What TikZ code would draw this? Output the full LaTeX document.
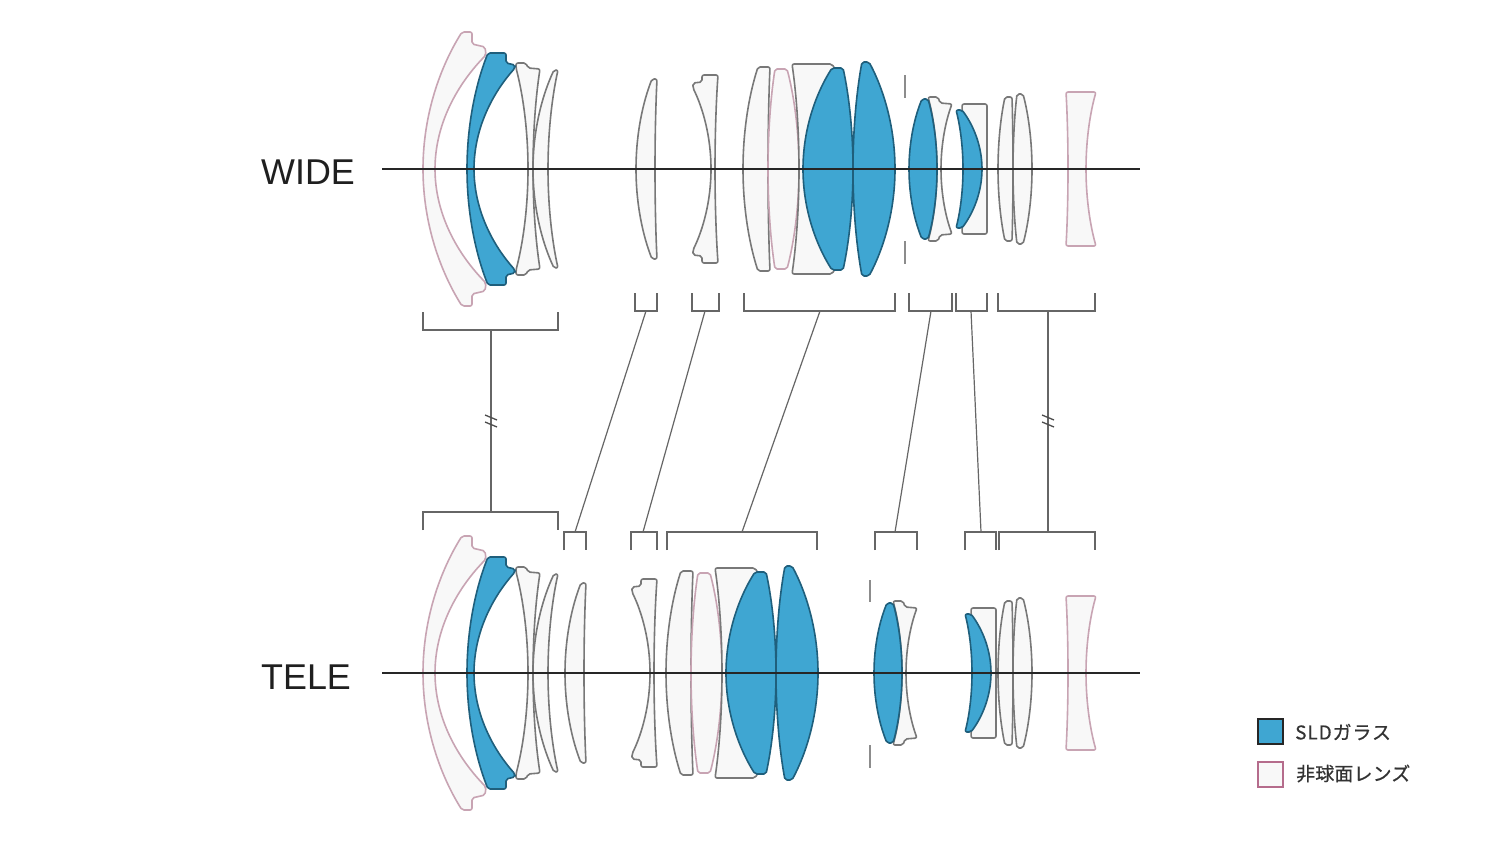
\documentclass[tikz,border=0pt]{standalone}
\usepackage{fontspec}
\setmainfont{Liberation Sans}
\newfontfamily\jpfont[FakeBold=0.6]{Noto Sans CJK JP}
\definecolor{sld}{HTML}{3FA6D2}
\definecolor{sldedge}{HTML}{1F5F7C}
\definecolor{glassfill}{HTML}{F8F8F8}
\definecolor{glassedge}{HTML}{787878}
\definecolor{asphedge}{HTML}{C8A4B3}
\definecolor{legendpink}{HTML}{B56C8C}
\definecolor{bracketgray}{HTML}{666666}
\tikzset{
  x=1bp,y=-1bp,
  bluelens/.style={fill=sld,draw=sldedge,line width=1.6bp,rounded corners=2bp,line join=round},
  whitelens/.style={fill=glassfill,draw=glassedge,line width=1.6bp,rounded corners=2bp,line join=round},
  pinklens/.style={fill=glassfill,draw=asphedge,line width=1.6bp,rounded corners=2bp,line join=round},
  axisline/.style={draw=black!85,line width=1.2bp},
  bracketline/.style={draw=bracketgray,line width=1.3bp},
  linkline/.style={draw=bracketgray,line width=1.2bp},
  stopmark/.style={draw=black!45,line width=1.4bp},
  breakmark/.style={draw=black!70,line width=1.3bp},
  rowlabel/.style={font=\fontsize{36}{36}\selectfont,text=black!88,inner sep=0pt,anchor=base west},
  legendlabel/.style={font=\jpfont\fontsize{19}{19}\selectfont,text=black!80,inner sep=0pt,anchor=west},
}
% half lens drawn above the axis and mirrored; the open path is closed along the axis only by the fill
\newcommand\halflens[2]{\path[#1] #2;\path[#1,yscale=-1] #2;}
\newcommand\su[3]{.. controls (#1,{-(#3)*0.4}) and ({#1+(#2-#1)*0.45},{-(#3)*0.75}) .. (#2,-#3)}
\newcommand\sd[3]{.. controls ({#2+(#1-#2)*0.45},{-(#3)*0.75}) and (#2,{-(#3)*0.4}) .. (#2,0)}
\newcommand\lensA{\halflens{pinklens}{(423,0) \su{423}{462}{137} -- (472,-137) -- (472,-125) -- (485,-122) -- (486,-114) \sd{486}{435}{114}}}
\newcommand\lensC{\halflens{whitelens}{(528,0) \su{528}{516}{101} -- (516,-106) -- (526,-106) -- (528,-101) -- (540,-100) \sd{540}{533}{100}}}
\newcommand\lensD{\halflens{whitelens}{(533,0) \su{533}{554}{99} -- (558,-99) \sd{558}{548}{99}}}
\newcommand\lensB{\halflens{bluelens}{(467,0) \su{467}{488}{116} -- (506,-116) -- (506,-106) -- (515,-104) -- (515,-101) \sd{515}{474}{101}}}
\newcommand\lensE{\halflens{whitelens}{(636,0) \su{636}{652}{90} -- (657,-90) \sd{657}{655}{90}}}
\newcommand\lensF{\halflens{whitelens}{(711,0) \su{711}{693}{81} -- (693,-86) -- (702,-87) -- (702,-94) -- (718,-94) \sd{718}{715}{94}}}
\newcommand\lensG{\halflens{whitelens}{(743,0) \su{743}{758}{102} -- (770,-102) \sd{770}{768}{102}}}
\newcommand\lensH{\halflens{pinklens}{(768,0) \su{768}{775}{100} -- (787,-100) \sd{787}{799}{100}}}
\newcommand\lensI{\halflens{whitelens}{(799,0) \su{799}{792}{105} -- (832,-105) -- (835,-100) -- (815,0)}}
\newcommand\lensJ{\halflens{bluelens}{(803,0) \su{803}{832}{101} -- (843,-101) \sd{843}{853}{101}}}
\newcommand\lensK{\halflens{bluelens}{(853,0) \su{853}{862}{107} -- (869,-107) \sd{869}{895}{107}}}
\newcommand\lensM{\halflens{whitelens}{(937,0) \su{937}{928}{72} -- (938,-72) -- (940,-66) -- (952,-65) \sd{952}{941}{65}}}
\newcommand\lensL{\halflens{bluelens}{(909,0) \su{909}{922}{70} -- (928,-70) \sd{928}{937}{70}}}
\newcommand\lensO{\halflens{whitelens}{(963,0) \su{963}{962}{65} -- (987,-65) -- (987,0)}}
\newcommand\lensN{\halflens{bluelens}{(963,0) \su{963}{956}{59} -- (962,-59) \sd{962}{982}{59}}}
\newcommand\lensP{\halflens{whitelens}{(998,0) \su{998}{1005}{72} -- (1012,-72) \sd{1012}{1013}{72}}}
\newcommand\lensQ{\halflens{whitelens}{(1013,0) \su{1013}{1017}{75} -- (1023,-75) \sd{1023}{1032}{75}}}
\newcommand\lensR{\halflens{pinklens}{(1068,0) \su{1068}{1066}{77} -- (1096,-77) \sd{1096}{1086}{77}}}
\newcommand\bracketat[5]{\draw[bracketline] (#2,#5) -- (#2,#4) -- (#3,#4) -- (#3,#5);}
\newcommand\breakat[2]{\draw[breakmark] (#1-6,#2-6) -- (#1+6,#2-1);\draw[breakmark] (#1-6,#2+1) -- (#1+6,#2+6);}
\begin{document}
\begin{tikzpicture}
\useasboundingbox (0,0) rectangle (1500,844);
\fill[white] (0,0) rectangle (1500,844);
% wide
\begin{scope}[shift={(0,169)}]
\lensA\lensC\lensD\lensB\lensE\lensF\lensG\lensH\lensI\lensJ\lensK\lensM\lensL\lensO\lensN\lensP\lensQ\lensR
\end{scope}
% tele
\begin{scope}[shift={(0,673)}]
\lensA\lensC\lensD\lensB
\begin{scope}[shift={(-71,0)}]\lensE\end{scope}
\begin{scope}[shift={(-61,0)}]\lensF\end{scope}
\begin{scope}[shift={(-77,0)}]\lensG\lensH\lensI\lensJ\lensK\end{scope}
\begin{scope}[shift={(-35,0)}]\lensM\lensL\end{scope}
\begin{scope}[shift={(9,0)}]\lensO\lensN\end{scope}
\lensP\lensQ\lensR
\end{scope}
% axes
\draw[axisline] (382,169) -- (1140,169);
\draw[axisline] (382,673) -- (1140,673);
% stop marks
\draw[stopmark] (905,75) -- (905,98);
\draw[stopmark] (905,241) -- (905,264);
\draw[stopmark] (870,580) -- (870,602);
\draw[stopmark] (870,745) -- (870,768);
% brackets
\bracketat{w1}{423}{558}{330}{312}
\bracketat{w2}{635}{657}{311}{293}
\bracketat{w3}{692}{719}{311}{293}
\bracketat{w4}{744}{895}{311}{293}
\bracketat{w5}{909}{952}{311}{293}
\bracketat{w6}{956}{987}{311}{293}
\bracketat{w7}{998}{1095}{311}{293}
\bracketat{t1}{423}{558}{512}{530}
\bracketat{t2}{564}{586}{532}{550}
\bracketat{t3}{631}{657}{532}{550}
\bracketat{t4}{667}{817}{532}{550}
\bracketat{t5}{875}{917}{532}{550}
\bracketat{t6}{965}{996}{532}{550}
\bracketat{t7}{999}{1095}{532}{550}
% link ends
\coordinate (w1c) at (491,330); \coordinate (t1c) at (491,512);
\coordinate (w2c) at (646,311); \coordinate (t2c) at (575,532);
\coordinate (w3c) at (705,311); \coordinate (t3c) at (643,532);
\coordinate (w4c) at (820,311); \coordinate (t4c) at (742,532);
\coordinate (w5c) at (931,311); \coordinate (t5c) at (895,532);
\coordinate (w6c) at (971,311); \coordinate (t6c) at (981,532);
\coordinate (w7c) at (1048,311); \coordinate (t7c) at (1048,532);
\foreach \n in {1,...,7}{\draw[linkline] (w\n c) -- (t\n c);}
\breakat{491}{421}
\breakat{1048}{421}
% labels
\node[rowlabel] (wide) at (261,184) {WIDE};
\node[rowlabel] (tele) at (261,689) {TELE};
% legend
\node[draw=black!85,line width=2.2bp,fill=sld,minimum size=25bp,inner sep=0pt] (keya) at (1270.5,731.5) {};
\node[draw=legendpink,line width=2.2bp,fill=glassfill,minimum size=25bp,inner sep=0pt] (keyb) at (1270.5,774.5) {};
\node[legendlabel] (texta) at (1295,732) {\addfontfeature{LetterSpace=5}SLDガラス};
\node[legendlabel] (textb) at (1296,773.5) {\addfontfeature{LetterSpace=1}非球面レンズ};
\end{tikzpicture}
\end{document}
